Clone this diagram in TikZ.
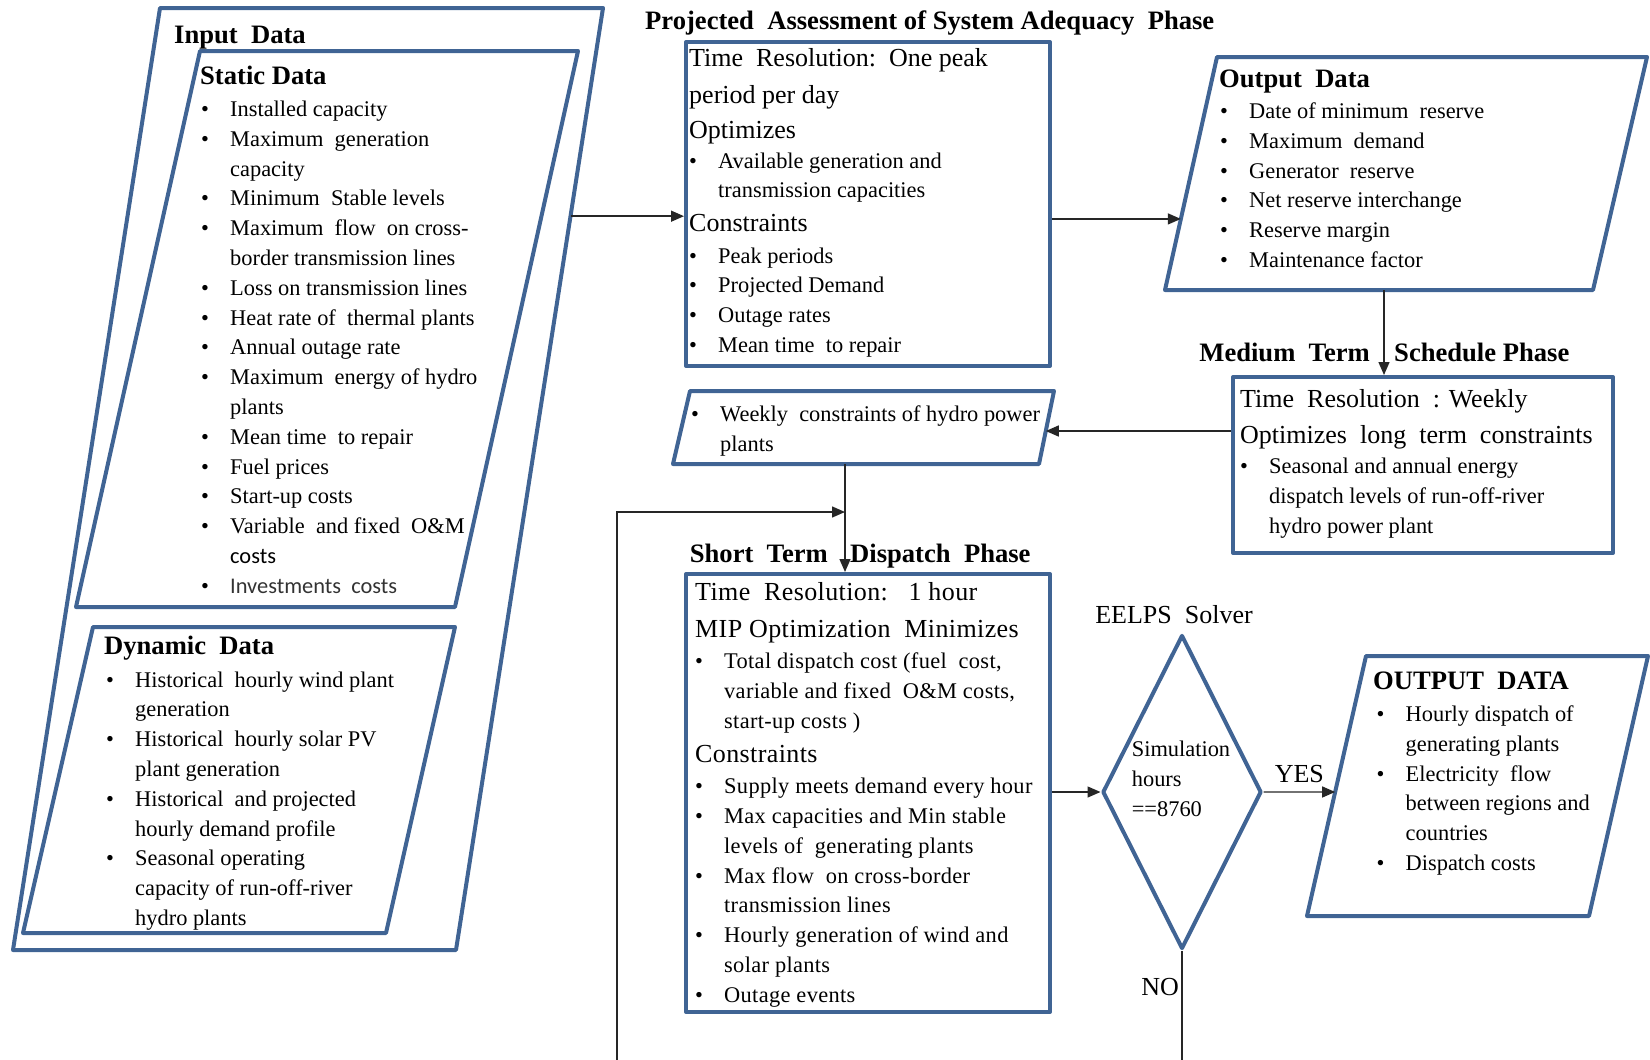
\documentclass[tikz,border=0pt]{standalone}
\usepackage{fontspec}
\setmainfont{Liberation Serif}
\newfontfamily\carlito{Carlito}
\newfontfamily\spacedserif[LetterSpace=1.5]{Liberation Serif}
\usetikzlibrary{arrows.meta,shapes.geometric,calc}

\definecolor{boxblue}{RGB}{64,100,148}

\newcommand{\bodyfont}{\fontsize{22.4}{29.8}\selectfont}
\newcommand{\headfont}{\fontsize{26}{29.8}\selectfont}
\newcommand{\titlefont}{\fontsize{26.6}{30}\selectfont\bfseries}
\newcommand{\bitem}{\par\hangindent=29pt\hangafter=1\noindent\makebox[29pt][l]{\textbullet}}
\newcommand{\hdline}[1]{\par\noindent{\headfont #1}\par}
\newcommand{\vgap}[1]{\par\vspace{#1pt}}
\newcommand{\itemsblock}[1]{\parbox[t]{520pt}{\bodyfont\setlength{\parindent}{0pt}#1}}

\tikzset{
  box/.style={draw=boxblue, line width=4pt, line join=round},
  phasebox/.style={box, rectangle, inner sep=0pt},
  flow/.style={draw=black!85, line width=1.4pt, -{Triangle[length=13pt,width=11pt]}},
  plain/.style={draw=black!85, line width=1.4pt},
  lst/.style={anchor=base west, inner sep=0pt, font=\bodyfont},
  ttl/.style={anchor=base west, inner sep=0pt, font=\titlefont},
  lbl/.style={anchor=base, inner sep=0pt, font=\headfont},
}

\begin{document}
\begin{tikzpicture}[x=1pt, y=-1pt]
    \useasboundingbox (0,0) rectangle (1650,1060);

    % Draw the input data
    \coordinate (in-tl) at (160,8);
    \coordinate (in-tr) at (603,8);
    \coordinate (in-br) at (456,950);
    \coordinate (in-bl) at (13,950);
    \draw[box] (in-tl) -- (in-tr) -- (in-br) -- (in-bl) -- cycle;
    \node[ttl] (intitle) at (174,43) {Input\ \ Data};

    \coordinate (st-tl) at (200,51);
    \coordinate (st-tr) at (578,51);
    \coordinate (st-br) at (455,607);
    \coordinate (st-bl) at (76,607);
    \draw[box] (st-tl) -- (st-tr) -- (st-br) -- (st-bl) -- cycle;
    \node[ttl] (sttitle) at (200,84) {Static Data};
    \node[lst] (stlist) at (201,116.5) {\itemsblock{%
        \bitem Installed capacity
        \bitem Maximum\ \ generation\newline capacity
        \bitem Minimum\ \ Stable levels
        \bitem Maximum\ \ flow\ \ on cross-\newline border transmission lines
        \bitem Loss on transmission lines
        \bitem Heat rate of\ \ thermal\ plants
        \bitem Annual outage rate
        \bitem Maximum\ \ energy of hydro\newline plants
        \bitem Mean time\ \ to repair
        \bitem Fuel prices
        \bitem Start-up costs
        \bitem Variable\ \ and fixed\ \ O\&M\newline {\carlito costs}
        \bitem {\carlito\color{black!80}Investments\ \ costs}}};

    \coordinate (dy-tl) at (93,627);
    \coordinate (dy-tr) at (455,627);
    \coordinate (dy-br) at (386,933);
    \coordinate (dy-bl) at (23,933);
    \draw[box] (dy-tl) -- (dy-tr) -- (dy-br) -- (dy-bl) -- cycle;
    \node[ttl] (dytitle) at (104,654) {Dynamic\ \ Data};
    \node[lst] (dylist) at (106,687) {\itemsblock{%
        \bitem Historical\ \ hourly wind plant\newline generation
        \bitem Historical\ \ hourly solar PV\newline plant generation
        \bitem Historical\ \ and projected\newline hourly demand profile
        \bitem Seasonal operating\newline capacity of run-off-river\newline hydro plants}};

    % Draw the adequacy phase
    \node[ttl] (pasattl) at (645,29) {Projected\ \ Assessment of System Adequacy\ \ Phase};
    \node[phasebox, minimum width=364pt, minimum height=324pt] (pasa) at (868,204) {};
    \node[lst] (pasatxt) at (689,66) {\itemsblock{%
        \hdline{Time\ \ Resolution:\ \ One peak}\vgap{8}
        \hdline{period per day}\vgap{4.7}
        \hdline{Optimizes}
        \bitem Available generation and\newline transmission capacities
        \vgap{3.7}\hdline{Constraints}\vgap{2}
        \bitem Peak periods
        \bitem Projected Demand
        \bitem Outage rates
        \bitem Mean time\ \ to repair}};

    \coordinate (od-tl) at (1217,57);
    \coordinate (od-tr) at (1647,57);
    \coordinate (od-br) at (1593,290);
    \coordinate (od-bl) at (1165,290);
    \draw[box] (od-tl) -- (od-tr) -- (od-br) -- (od-bl) -- cycle;
    \node[ttl] (odtitle) at (1219,87) {Output\ \ Data};
    \node[lst] (odlist) at (1220,118.5) {\itemsblock{%
        \bitem Date of minimum\ \ reserve
        \bitem Maximum\ \ demand
        \bitem Generator\ \ reserve
        \bitem Net reserve interchange
        \bitem Reserve margin
        \bitem Maintenance factor}};

    % Draw the medium term phase
    \node[ttl, anchor=base east] (medttl) at (1370,361) {Medium\ \ Term};
    \node[ttl] (medttl2) at (1394,361) {Schedule Phase};
    \node[phasebox, minimum width=380pt, minimum height=176pt] (med) at (1423,465) {};
    \node[lst] (medtxt) at (1240,407) {\itemsblock{%
        \hdline{Time\ \ Resolution\ \ : Weekly}\vgap{7}
        \hdline{Optimizes\ \ long\ \ term\ \ constraints}
        \bitem Seasonal and annual energy\newline dispatch levels of run-off-river\newline hydro power plant}};

    \coordinate (wk-tl) at (690,391);
    \coordinate (wk-tr) at (1054,391);
    \coordinate (wk-br) at (1039,464);
    \coordinate (wk-bl) at (673,464);
    \draw[box] (wk-tl) -- (wk-tr) -- (wk-br) -- (wk-bl) -- cycle;
    \node[lst] (wktxt) at (691,421.6) {\itemsblock{%
        \bitem Weekly\ \ constraints of hydro power\newline plants}};

    % Draw the short term phase
    \node[ttl, anchor=base east] (shttl) at (828,562) {Short\ \ Term};
    \node[ttl] (shttl2) at (850,562) {Dispatch\ \ Phase};
    \node[phasebox, minimum width=364pt, minimum height=438pt] (short) at (868,793) {};
    \node[lst] (shtxt) at (695,600.4) {\itemsblock{\spacedserif
        \hdline{Time\ \ Resolution:\ \ \ 1 hour}\vgap{7}
        \hdline{MIP Optimization\ \ Minimizes}\vgap{1.7}
        \bitem Total dispatch cost (fuel\ \ cost,\newline variable and fixed\ \ O\&M costs,\newline start-up costs )
        \vgap{3.9}\hdline{Constraints}\vgap{1.8}
        \bitem Supply meets demand every hour
        \bitem Max capacities and Min stable\newline levels of\ \ generating plants
        \bitem Max flow\ \ on cross-border\newline transmission lines
        \bitem Hourly generation of wind and\newline solar plants
        \bitem Outage events}};

    % Draw the solver
    \node[lbl] (solver) at (1174,623) {EELPS\ \ Solver};
    \node[box, diamond, minimum width=159pt, minimum height=314pt, inner sep=0pt] (sim) at (1182,792) {};
    \node[inner sep=0pt, align=left, font=\bodyfont] (simtxt) at (1181,779) {Simulation\\hours\\==8760};

    \coordinate (out-tl) at (1366,656);
    \coordinate (out-tr) at (1648,656);
    \coordinate (out-br) at (1589,916);
    \coordinate (out-bl) at (1307,916);
    \draw[box] (out-tl) -- (out-tr) -- (out-br) -- (out-bl) -- cycle;
    \node[ttl] (outtitle) at (1373,689) {OUTPUT\ \ DATA};
    \node[lst] (outlist) at (1376.5,721.5) {\itemsblock{%
        \bitem Hourly dispatch of\newline generating plants
        \bitem Electricity\ \ flow\newline between regions and\newline countries
        \bitem Dispatch costs}};

    % Draw connections
    \coordinate (in-e) at ($(in-tr)!0.221!(in-br)$);
    \draw[flow] (in-e) -- (in-e -| pasa.west);
    \coordinate (od-w) at ($(od-tl)!0.695!(od-bl)$);
    \draw[flow] (pasa.east |- od-w) -- (od-w);
    \coordinate (od-s) at (1384,290);
    \draw[flow] (od-s) -- (od-s |- med.north);
    \coordinate (wk-e) at ($(wk-tr)!0.548!(wk-br)$);
    \draw[flow] (med.west |- wk-e) -- (wk-e);
    \coordinate (wk-s) at (845,464);
    \draw[flow] (wk-s) -- (wk-s |- short.north);
    \coordinate (fb-start) at (617,1060);
    \coordinate (fb-turn) at (617,512);
    \draw[flow] (fb-start) -- (fb-turn) -- (fb-turn -| wk-s);
    \draw[flow] (short.east |- sim.west) -- (sim.west);
    \coordinate (out-w) at ($(out-tl)!0.523!(out-bl)$);
    \draw[flow] (sim.east) -- node[lbl, above=9pt] (yes) {YES} (out-w);
    \coordinate (no-end) at (1182,1060);
    \draw[plain] (sim.south) -- (no-end);
    \node[lbl, anchor=base east] (no) at (1179,995) {NO};

\end{tikzpicture}
\end{document}
